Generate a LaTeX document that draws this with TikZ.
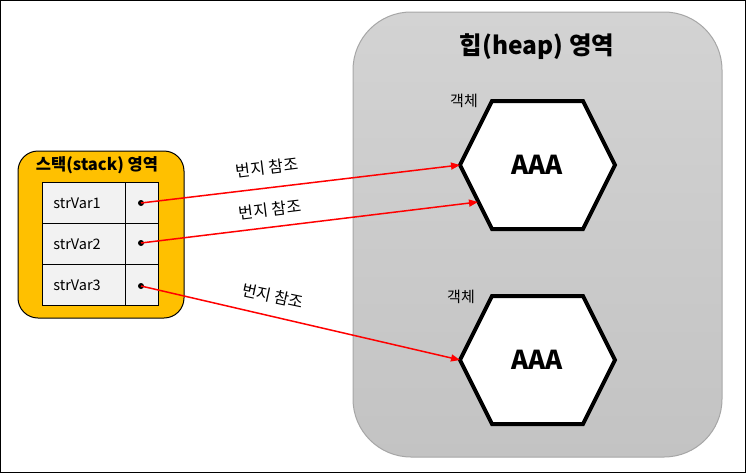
\documentclass[tikz,border=0pt]{standalone}
\usepackage{fontspec}
\setmainfont{Noto Sans CJK KR}
\usetikzlibrary{arrows.meta}
\definecolor{stackfill}{HTML}{FFC000}
\definecolor{cellfill}{HTML}{F2F2F2}
\definecolor{heaptop}{HTML}{D3D3D3}
\definecolor{heapbot}{HTML}{C3C3C3}
\definecolor{heapline}{HTML}{A6A6A6}
\tikzset{
  cell/.style={draw=black, line width=0.8pt, fill=cellfill, inner sep=0pt, anchor=north west},
  namecell/.style={cell, minimum width=83pt, minimum height=41pt, text width=61pt, align=left,
    inner xsep=0pt, font=\fontsize{14.5}{17}\selectfont},
  valcell/.style={cell, minimum width=33pt, minimum height=41pt},
  dotnode/.style={circle, fill=black, inner sep=0pt, minimum size=6pt},
  refarrow/.style={draw=red, line width=1.5pt, -{Triangle[length=9pt,width=7pt]}},
  reflabel/.style={font=\fontsize{16}{19}\selectfont, inner sep=1pt},
  hexline/.style={draw=black, line width=4pt, fill=white, line join=miter},
  objlabel/.style={font=\fontsize{15}{17}\selectfont, inner sep=0pt},
  aaa/.style={font=\fontsize{26}{30}\selectfont\bfseries, inner sep=0pt},
}
\begin{document}
\begin{tikzpicture}[x=1pt,y=-1pt]
\useasboundingbox (0,0) rectangle (747,474);
% outer frame
\draw[black, line width=1pt] (0.5,0.5) rectangle (745.5,472.5);

% heap area
\draw[draw=heapline, line width=1pt, top color=heaptop, bottom color=heapbot, rounded corners=58pt]
  (353,12) rectangle (722,457);
\node[font=\fontsize{24.5}{29}\selectfont\bfseries] (heaptitle) at (537,47) {힙(heap) 영역};

% hexagon 1
\coordinate (h1w) at (460,165);
\coordinate (h1e) at (615,165);
\coordinate (h1nw) at (492,101);
\coordinate (h1ne) at (583,101);
\coordinate (h1sw) at (492,229);
\coordinate (h1se) at (583,229);
\path[hexline] (h1w) -- (h1nw) -- (h1ne) -- (h1e) -- (h1se) -- (h1sw) -- cycle;
\node[aaa] (obj1) at (537,165) {AAA};
\node[objlabel] (lab1) at (464,101) {객체};
\coordinate (h1edge) at (478,202);

% hexagon 2
\coordinate (h2w) at (460,360);
\coordinate (h2e) at (615,360);
\coordinate (h2nw) at (492,296);
\coordinate (h2ne) at (583,296);
\coordinate (h2sw) at (492,424);
\coordinate (h2se) at (583,424);
\path[hexline] (h2w) -- (h2nw) -- (h2ne) -- (h2e) -- (h2se) -- (h2sw) -- cycle;
\node[aaa] (obj2) at (537,360) {AAA};
\node[objlabel] (lab2) at (461,297) {객체};

% stack area
\draw[draw=black, line width=1pt, fill=stackfill, rounded corners=20pt]
  (18,151) rectangle (184,318);
\node[font=\fontsize{16.5}{20}\selectfont\bfseries] (stacktitle) at (97,165) {스택(stack) 영역};

\node[namecell] (n1) at (42,182) {strVar1};
\node[valcell] (v1) at (125,182) {};
\node[namecell] (n2) at (42,223) {strVar2};
\node[valcell] (v2) at (125,223) {};
\node[namecell] (n3) at (42,264) {strVar3};
\node[valcell] (v3) at (125,264) {};

\node[dotnode] (d1) at (141,203) {};
\node[dotnode] (d2) at (141,243) {};
\node[dotnode] (d3) at (141,286) {};

% arrows
\draw[refarrow] (d1.center) -- (h1w);
\draw[refarrow] (d2.center) -- (h1edge);
\draw[refarrow] (d3.center) -- (h2w);

\node[reflabel, rotate=7] (r1) at (267,168) {번지 참조};
\node[reflabel, rotate=7] (r2) at (270,210) {번지 참조};
\node[reflabel, rotate=-12] (r3) at (273,296) {번지 참조};
\end{tikzpicture}
\end{document}
